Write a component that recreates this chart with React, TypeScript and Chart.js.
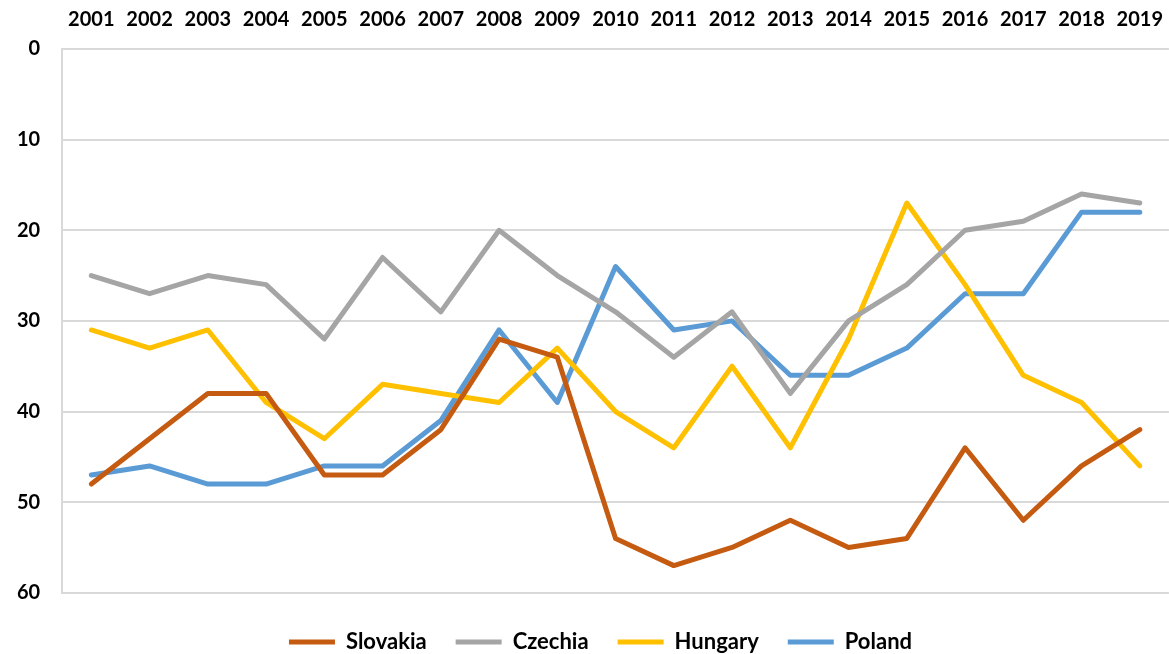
import React, { useEffect, useRef } from "react";
import { Chart, registerables } from "chart.js";

Chart.register(...registerables);

const years = ["2001","2002","2003","2004","2005","2006","2007","2008","2009","2010","2011","2012","2013","2014","2015","2016","2017","2018","2019"];
const slovakia = [48, 43, 38, 38, 47, 47, 42, 32, 34, 54, 57, 55, 52, 55, 54, 44, 52, 46, 42];
const czechia = [25, 27, 25, 26, 32, 23, 29, 20, 25, 29, 34, 29, 38, 30, 26, 20, 19, 16, 17];
const hungary = [31, 33, 31, 39, 43, 37, 38, 39, 33, 40, 44, 35, 44, 32, 17, 26, 36, 39, 46];
const poland = [47, 46, 48, 48, 46, 46, 41, 31, 39, 24, 31, 30, 36, 36, 33, 27, 27, 18, 18];

const FONT = "Lato, 'Open Sans', sans-serif";
const CANVAS_W = 1172;

const shiftLegend = {
  id: "shiftLegend",
  afterLayout(chart: any) {
    const lg = chart.legend;
    if (lg) {
      lg.left += 17;
      lg.right += 17;
    }
  },
};

export default function App() {
  const ref = useRef<HTMLCanvasElement | null>(null);
  useEffect(() => {
    if (!ref.current) return;
    const mk = (label: string, data: number[], color: string) => ({
      label,
      data,
      borderColor: color,
      backgroundColor: color,
      borderWidth: 5,
      pointRadius: 0,
      pointHoverRadius: 0,
      tension: 0,
      borderCapStyle: "round" as const,
      borderJoinStyle: "round" as const,
      pointStyle: "line" as const,
    });
    const chart = new Chart(ref.current, {
      type: "line",
      data: {
        labels: years,
        datasets: [
          mk("Slovakia", slovakia, "#C55A11"),
          mk("Czechia", czechia, "#A5A5A5"),
          mk("Hungary", hungary, "#FFC000"),
          mk("Poland", poland, "#5B9BD5"),
        ],
      },
      plugins: [shiftLegend],
      options: {
        animation: false,
        responsive: false,
        maintainAspectRatio: false,
        layout: { padding: { left: -5, right: 0, top: -1, bottom: -9 } },
        plugins: {
          tooltip: { enabled: false },
          legend: {
            position: "bottom",
            title: { display: true, text: " ", font: { size: 1 }, padding: { top: 8, bottom: 0 } },
            labels: {
              usePointStyle: true,
              pointStyle: "line",
              pointStyleWidth: 46,
              color: "#000",
              font: { family: FONT, size: 22, weight: "bold" },
              padding: 29,
            },
          },
        },
        scales: {
          x: {
            position: "top",
            offset: true,
            grid: { display: false },
            border: { display: false },
            ticks: {
              color: "#000",
              font: { family: FONT, size: 20, weight: "bold" },
              maxRotation: 0,
              autoSkip: false,
              padding: 9,
            },
          },
          y: {
            reverse: true,
            min: 0,
            max: 60,
            grid: { color: "#D9D9D9", lineWidth: 2, drawTicks: false },
            border: { display: true, color: "#D9D9D9", width: 2 },
            ticks: {
              stepSize: 10,
              color: "#000",
              font: { family: FONT, size: 20, weight: "bold" },
              padding: 22,
            },
          },
        },
      },
    });
    return () => chart.destroy();
  }, []);
  return (
    <div style={{ position: "fixed", left: 0, top: 0, width: 1169, height: 654, overflow: "hidden", background: "#fff" }}>
      <canvas ref={ref} width={CANVAS_W} height={654} style={{ width: CANVAS_W, height: 654, display: "block" }} />
    </div>
  );
}
